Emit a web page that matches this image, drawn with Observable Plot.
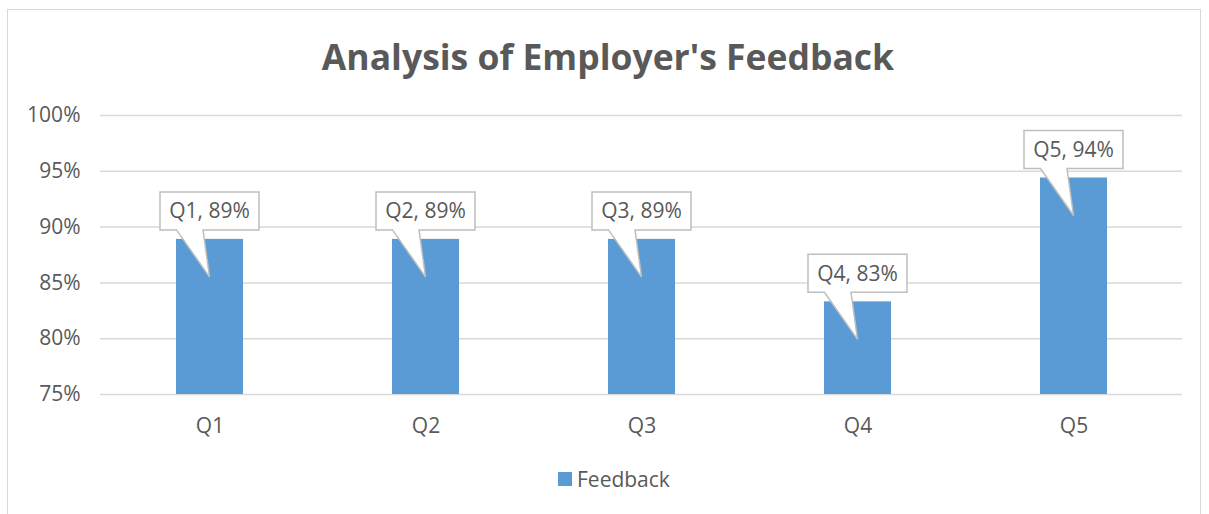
<!DOCTYPE html>
<html>
<head>
<meta charset="utf-8">
<script src="https://cdn.jsdelivr.net/npm/d3@7"></script>
<script src="https://cdn.jsdelivr.net/npm/@observablehq/plot@0.6"></script>
<style>
  body { margin: 0; background: #fff; }
  #wrap { position: relative; width: 1209px; height: 514px; overflow: hidden; background: #fff; font-family: 'Open Sans', sans-serif; color: #595959; }
  #border { position: absolute; left: 7px; top: 9px; width: 1194px; height: 700px; border: 1.5px solid #d9d9d9; box-sizing: border-box; }
  #title { position: absolute; left: 0; width: 1216px; top: 38px; text-align: center; font-weight: 700; font-size: 35.5px; line-height: 36px; color: #595959; }
  #chart { position: absolute; left: 0; top: 95px; }
  #legend { position: absolute; left: 558px; top: 466px; display: flex; align-items: center; font-size: 21px; line-height: 26px; color: #595959; }
  #legend .sw { width: 14px; height: 14px; background: #5b9bd5; margin-right: 5px; }
</style>
</head>
<body>
<div id="wrap">
  <div id="border"></div>
  <div id="title"></div>
  <div id="chart"></div>
  <div id="legend"></div>
</div>
<script>
const titleText = "Analysis of Employer's Feedback";
const seriesName = "Feedback";
const categories = ["Q1", "Q2", "Q3", "Q4", "Q5"];
const feedback = [0.889, 0.889, 0.889, 0.833, 0.944];
const yTicks = [0.75, 0.80, 0.85, 0.90, 0.95, 1.00];
const barColor = "#5b9bd5";

const data = categories.map((q, i) => ({ q, v: feedback[i], label: `${q}, ${Math.round(feedback[i] * 100)}%` }));

document.getElementById("title").textContent = titleText;
document.getElementById("legend").innerHTML = `<div class="sw"></div><span>${seriesName}</span>`;

function calloutMark(index, scales) {
  const x = scales.x, y = scales.y;
  const bw = x.bandwidth ? x.bandwidth() : (scales.scales && scales.scales.x && scales.scales.x.bandwidth) || 0;
  const g = d3.create("svg:g");
  data.forEach(d => {
    const cx = x(d.q) + bw / 2;
    const top = y(d.v);
    const bottom = top - 9, h = 38, boxW = 99;
    const left = cx - boxW / 2, right = cx + boxW / 2, t = bottom - h;
    const tipY = top + 38;
    g.append("path")
      .attr("d", `M${left},${t}H${right}V${bottom}H${cx - 6.5}L${cx},${tipY}L${cx - 33},${bottom}H${left}Z`)
      .attr("fill", "#fff").attr("stroke", "#bfbfbf").attr("stroke-width", 1.5);
    g.append("text")
      .attr("x", cx).attr("y", t + h / 2).attr("dy", "0.36em")
      .attr("text-anchor", "middle").attr("fill", "#595959")
      .attr("font-size", 21).attr("font-family", "'Open Sans', sans-serif")
      .text(d.label);
  });
  return g.node();
}

const chart = Plot.plot({
  width: 1209, height: 345,
  marginTop: 20, marginBottom: 46, marginLeft: 100, marginRight: 27,
  style: { fontFamily: "'Open Sans', sans-serif", fontSize: "21px", color: "#595959", background: "transparent", overflow: "visible" },
  x: { domain: categories, paddingInner: 0.69, paddingOuter: 0.345, label: null },
  y: { domain: [0.75, 1.0], label: null },
  marks: [
    Plot.gridY(yTicks, { stroke: "#d9d9d9", strokeOpacity: 1, strokeWidth: 1.5 }),
    Plot.barY(data, { x: "q", y1: 0.75, y2: "v", fill: barColor }),
    Plot.axisY(yTicks, { tickFormat: d3.format(".0%"), tickSize: 0, tickPadding: 20, fill: "#595959", fontSize: 21 }),
    Plot.axisX({ tickSize: 0, tickPadding: 24, fill: "#595959", fontSize: 21 }),
    calloutMark
  ]
});
document.getElementById("chart").appendChild(chart);
</script>
</body>
</html>
